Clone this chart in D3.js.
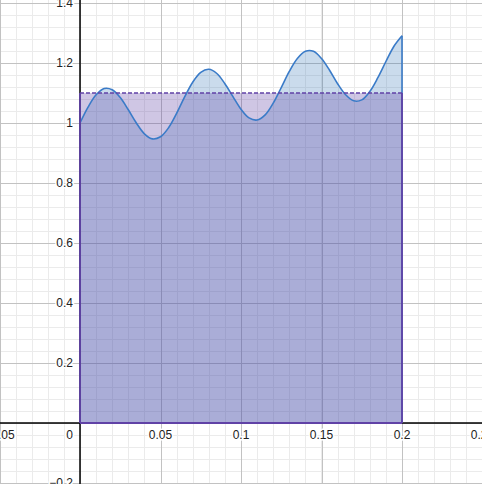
<!DOCTYPE html>
<html>
<head>
<meta charset="utf-8">
<script src="https://cdn.jsdelivr.net/npm/d3@7"></script>
<style>
  html, body { margin: 0; padding: 0; background: #fff; }
  svg { display: block; }
  text { font-family: "Liberation Sans", Arial, sans-serif; font-size: 12px; fill: #222; }
</style>
</head>
<body>
<svg id="chart" width="482" height="484"></svg>
<script>
// ---- data ----
const curveX = [0, 0.005, 0.01, 0.015, 0.02, 0.025, 0.03, 0.035, 0.04, 0.045, 0.05,
  0.055, 0.06, 0.065, 0.07, 0.075, 0.08, 0.085, 0.09, 0.095, 0.1,
  0.105, 0.11, 0.115, 0.12, 0.125, 0.13, 0.135, 0.14, 0.145, 0.15,
  0.155, 0.16, 0.165, 0.17, 0.175, 0.18, 0.185, 0.19, 0.195, 0.2];
const curveY = [1.000, 1.053, 1.094, 1.115, 1.111, 1.085, 1.044, 1.000, 0.964, 0.947, 0.954,
  0.984, 1.032, 1.087, 1.136, 1.169, 1.179, 1.165, 1.131, 1.088, 1.046,
  1.017, 1.010, 1.027, 1.066, 1.118, 1.172, 1.215, 1.239, 1.239, 1.215,
  1.176, 1.131, 1.094, 1.074, 1.077, 1.105, 1.151, 1.205, 1.256, 1.291];
const rectX = [0, 0.2];
const rectHeight = [1.1];
const xTicks = [-0.05, 0, 0.05, 0.1, 0.15, 0.2, 0.25];
const xTickLabels = ["\u22120.05", "0", "0.05", "0.1", "0.15", "0.2", "0.25"];
const yTicks = [-0.2, 0.2, 0.4, 0.6, 0.8, 1, 1.2, 1.4];
const yTickLabels = ["\u22120.2", "0.2", "0.4", "0.6", "0.8", "1", "1.2", "1.4"];

// ---- scales ----
const W = 482, H = 484;
const x = d3.scaleLinear().domain([0, 0.2]).range([80, 402]);
const y = d3.scaleLinear().domain([0, 1.4]).range([423, 3]);
const svg = d3.select("#chart");

const blue = "#3a7bc8", blueFill = "#2d70b3", purple = "#6042a6";

// ---- grid ----
const xMinor = d3.range(-5, 26).map(i => i / 100);
const yMinor = d3.range(-5, 36).map(i => i * 0.04);
const xMajor = d3.range(-1, 6).map(i => i * 0.05);
const yMajor = d3.range(-1, 8).map(i => i * 0.2);

const grid = svg.append("g").attr("shape-rendering", "crispEdges");
grid.selectAll(".xm").data(xMinor).join("line")
  .attr("x1", d => Math.round(x(d)) + 0.5).attr("x2", d => Math.round(x(d)) + 0.5)
  .attr("y1", 0).attr("y2", H).attr("stroke", "#ebebeb").attr("stroke-width", 1);
grid.selectAll(".ym").data(yMinor).join("line")
  .attr("y1", d => Math.round(y(d)) + 0.5).attr("y2", d => Math.round(y(d)) + 0.5)
  .attr("x1", 0).attr("x2", W).attr("stroke", "#ebebeb").attr("stroke-width", 1);
grid.selectAll(".xM").data(xMajor).join("line")
  .attr("x1", d => Math.round(x(d)) + 0.5).attr("x2", d => Math.round(x(d)) + 0.5)
  .attr("y1", 0).attr("y2", H).attr("stroke", "#c2c2c2").attr("stroke-width", 1);
grid.selectAll(".yM").data(yMajor).join("line")
  .attr("y1", d => Math.round(y(d)) + 0.5).attr("y2", d => Math.round(y(d)) + 0.5)
  .attr("x1", 0).attr("x2", W).attr("stroke", "#c2c2c2").attr("stroke-width", 1);

// ---- axes ----
svg.append("line").attr("x1", 0).attr("x2", W).attr("y1", y(0)).attr("y2", y(0))
  .attr("stroke", "#000").attr("stroke-width", 1.5);
svg.append("line").attr("x1", x(0)).attr("x2", x(0)).attr("y1", 0).attr("y2", H)
  .attr("stroke", "#000").attr("stroke-width", 1.5);

// ---- data marks ----
const pts = curveX.map((d, i) => [d, curveY[i]]);
const area = d3.area().x(d => x(d[0])).y0(y(0)).y1(d => y(d[1])).curve(d3.curveCatmullRom);
const line = d3.line().x(d => x(d[0])).y(d => y(d[1])).curve(d3.curveCatmullRom);

svg.append("path").attr("d", area(pts)).attr("fill", blueFill).attr("fill-opacity", 0.25);
svg.append("rect")
  .attr("x", x(rectX[0])).attr("width", x(rectX[1]) - x(rectX[0]))
  .attr("y", y(rectHeight[0])).attr("height", y(0) - y(rectHeight[0]))
  .attr("fill", purple).attr("fill-opacity", 0.3);

svg.append("path").attr("d", line(pts)).attr("fill", "none")
  .attr("stroke", blue).attr("stroke-width", 1.6);
svg.append("line")
  .attr("x1", x(curveX[curveX.length - 1])).attr("x2", x(curveX[curveX.length - 1]))
  .attr("y1", y(0)).attr("y2", y(curveY[curveY.length - 1]))
  .attr("stroke", blue).attr("stroke-width", 1.6);

// rectangle edges
const r = svg.append("g").attr("stroke", purple).attr("stroke-width", 1.8).attr("fill", "none");
r.append("line").attr("x1", x(rectX[0])).attr("x2", x(rectX[0])).attr("y1", y(0)).attr("y2", y(rectHeight[0]));
r.append("line").attr("x1", x(rectX[1])).attr("x2", x(rectX[1])).attr("y1", y(0)).attr("y2", y(rectHeight[0]));
r.append("line").attr("x1", x(rectX[0])).attr("x2", x(rectX[1])).attr("y1", y(0)).attr("y2", y(0));
r.append("line").attr("x1", x(rectX[0])).attr("x2", x(rectX[1]))
  .attr("y1", y(rectHeight[0])).attr("y2", y(rectHeight[0]))
  .attr("stroke-width", 1.3).attr("stroke-dasharray", "4,2");

// ---- labels ----
const lab = svg.append("g");
lab.selectAll(".xl").data(xTicks).join("text")
  .attr("x", d => d === 0 ? x(0) - 7 : x(d))
  .attr("y", y(0) + 16)
  .attr("text-anchor", d => d === 0 ? "end" : "middle")
  .attr("stroke", "#fff").attr("stroke-width", 3).attr("paint-order", "stroke")
  .text((d, i) => xTickLabels[i]);
lab.selectAll(".yl").data(yTicks).join("text")
  .attr("x", x(0) - 7)
  .attr("y", d => y(d))
  .attr("dy", "0.36em")
  .attr("text-anchor", "end")
  .attr("stroke", "#fff").attr("stroke-width", 3).attr("paint-order", "stroke")
  .text((d, i) => yTickLabels[i]);
</script>
</body>
</html>
